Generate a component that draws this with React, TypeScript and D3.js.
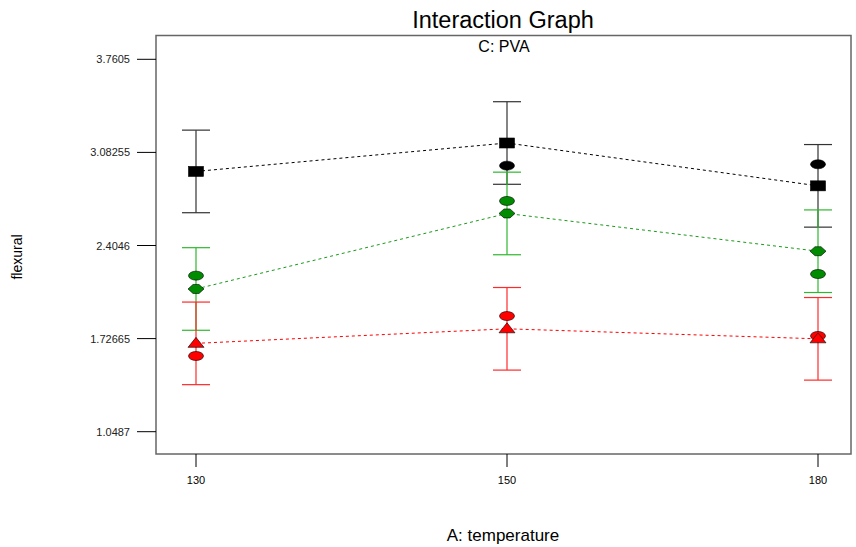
import React from "react";
import * as d3 from "d3";

// Factor levels of A: temperature
const temperatures = ["130", "150", "180"];

// Predicted means per PVA level (lines go through these)
const meanHigh = [2.944, 3.151, 2.839];
const meanMid = [2.088, 2.638, 2.363];
const meanLow = [1.692, 1.798, 1.725];

// Observed design points
const obsHigh = [null, 2.986, 2.996];
const obsMid = [2.185, 2.729, 2.197];
const obsLow = [1.6, 1.891, 1.746];

// Half-width of the LSD bars
const lsdHalf = 0.3007;

const yTicks = [1.0487, 1.72665, 2.4046, 3.08255, 3.7605];
const yTickLabels = ["1.0487", "1.72665", "2.4046", "3.08255", "3.7605"];

type Shape = "square" | "diamond" | "triangle";

const series: {
  mean: number[];
  obs: (number | null)[];
  shape: Shape;
  line: string;
  bar: string;
  fill: string;
}[] = [
  { mean: meanHigh, obs: obsHigh, shape: "square", line: "#000000", bar: "#333333", fill: "#000000" },
  { mean: meanMid, obs: obsMid, shape: "diamond", line: "#1a9a1a", bar: "#2eb82e", fill: "#008c00" },
  { mean: meanLow, obs: obsLow, shape: "triangle", line: "#ff0000", bar: "#ff2a2a", fill: "#ff0000" },
];

const W = 856;
const H = 547;
const box = { left: 156, right: 851, top: 35.5, bottom: 454 };
const FONT = "'Liberation Sans', Arial, sans-serif";

export default function App() {
  const x = d3.scalePoint<string>().domain(temperatures).range([196, 818]);
  const y = d3
    .scaleLinear()
    .domain([yTicks[0], yTicks[yTicks.length - 1]])
    .range([431.7, 59.3]);

  const line = d3
    .line<number>()
    .x((_, i) => x(temperatures[i]) as number)
    .y((d) => y(d));

  const marker = (shape: Shape, cx: number, cy: number, fill: string, key: string) => {
    if (shape === "square")
      return <rect key={key} x={cx - 7.5} y={cy - 5} width={15} height={10} fill={fill} stroke="#000" strokeWidth={0.6} />;
    if (shape === "diamond") {
      const p = `${cx - 8},${cy} ${cx - 3},${cy - 4.5} ${cx + 3},${cy - 4.5} ${cx + 8},${cy} ${cx + 3},${cy + 4.5} ${cx - 3},${cy + 4.5}`;
      return <polygon key={key} points={p} fill={fill} stroke="#000" strokeWidth={0.6} />;
    }
    const p = `${cx},${cy - 6} ${cx + 8},${cy + 4} ${cx - 8},${cy + 4}`;
    return <polygon key={key} points={p} fill={fill} stroke="#000" strokeWidth={0.6} />;
  };

  const obsMarker = (cx: number, cy: number, fill: string, key: string) => (
    <ellipse key={key} cx={cx} cy={cy} rx={7.5} ry={4.5} fill={fill} stroke="#000" strokeWidth={0.6} />
  );

  return (
    <svg width={W} height={H} style={{ position: "absolute", left: 0, top: 0, background: "#fff" }} fontFamily={FONT}>
      <rect x={0} y={0} width={W} height={H} fill="#fff" />
      <text x={503} y={28} textAnchor="middle" fontSize={23.5} fill="#000">Interaction Graph</text>
      <rect
        x={box.left}
        y={box.top}
        width={box.right - box.left}
        height={box.bottom - box.top}
        fill="none"
        stroke="#666"
        strokeWidth={1.5}
      />
      <text x={504} y={52} textAnchor="middle" fontSize={16} fill="#000">C: PVA</text>

      {/* y axis */}
      {yTicks.map((t, i) => (
        <g key={`yt${i}`}>
          <line x1={137} x2={box.left} y1={y(t)} y2={y(t)} stroke="#000" strokeWidth={1} />
          <text x={130} y={y(t) + 4} textAnchor="end" fontSize={11} fill="#222">{yTickLabels[i]}</text>
        </g>
      ))}
      <text
        transform={`translate(22,257) rotate(-90)`}
        textAnchor="middle"
        fontSize={14}
        fill="#000"
      >
        flexural
      </text>

      {/* x axis */}
      {temperatures.map((t) => (
        <g key={`xt${t}`}>
          <line x1={x(t)} x2={x(t)} y1={box.bottom} y2={box.bottom + 13} stroke="#000" strokeWidth={1} />
          <text x={x(t)} y={484} textAnchor="middle" fontSize={11} fill="#000">{t}</text>
        </g>
      ))}
      <text x={503} y={541} textAnchor="middle" fontSize={17} fill="#000">A: temperature</text>

      {/* error bars */}
      {series.map((s, si) =>
        s.mean.map((m, i) => {
          const cx = x(temperatures[i]) as number;
          const top = y(m + lsdHalf);
          const bot = y(m - lsdHalf);
          return (
            <g key={`eb${si}-${i}`} stroke={s.bar} strokeWidth={1.2}>
              <line x1={cx} x2={cx} y1={top} y2={bot} />
              <line x1={cx - 14} x2={cx + 14} y1={top} y2={top} />
              <line x1={cx - 14} x2={cx + 14} y1={bot} y2={bot} />
            </g>
          );
        })
      )}

      {/* dashed mean lines */}
      {series.map((s, si) => (
        <path key={`ln${si}`} d={line(s.mean) || ""} fill="none" stroke={s.line} strokeWidth={1} strokeDasharray="3,3" />
      ))}

      {/* observed points */}
      {series.map((s, si) =>
        s.obs.map((o, i) =>
          o == null ? null : obsMarker(x(temperatures[i]) as number, y(o), s.fill, `ob${si}-${i}`)
        )
      )}

      {/* mean markers */}
      {series.map((s, si) =>
        s.mean.map((m, i) => marker(s.shape, x(temperatures[i]) as number, y(m), s.fill, `mk${si}-${i}`))
      )}
    </svg>
  );
}
